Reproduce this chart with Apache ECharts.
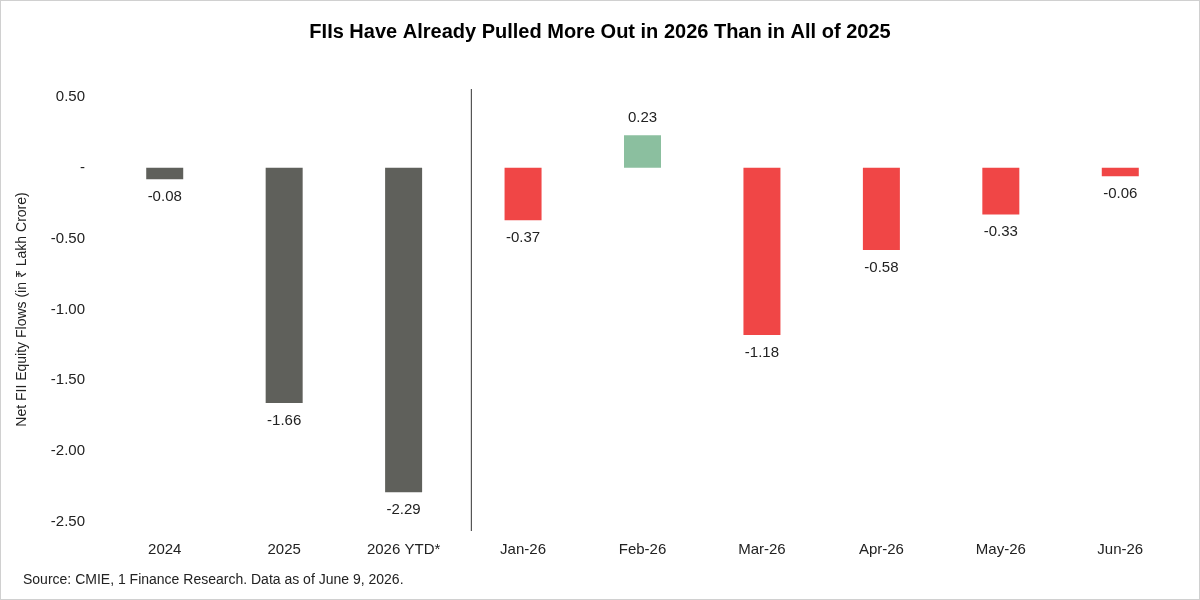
<!DOCTYPE html>
<html><head><meta charset="utf-8">
<script src="https://cdn.jsdelivr.net/npm/echarts@6/dist/echarts.min.js"></script>
<style>html,body{margin:0;padding:0;background:#fff}#c{width:1198px;height:598px;border:1px solid #d0d0d0}</style>
</head><body><div id="c"></div>
<script>
const categories = ['2024','2025','2026 YTD*','Jan-26','Feb-26','Mar-26','Apr-26','May-26','Jun-26'];
const values = [-0.08,-1.66,-2.29,-0.37,0.23,-1.18,-0.58,-0.33,-0.06];
const colorsByCat = ['#5f605b','#5f605b','#5f605b','#f04646','#8bbf9f','#f04646','#f04646','#f04646','#f04646'];
const chart = echarts.init(document.getElementById('c'));
const F = 'Arial, "Liberation Sans", sans-serif';
chart.setOption({
  animation:false,
  title:{text:'FIIs Have Already Pulled More Out in 2026 Than in All of 2025',left:'center',top:16,
    textStyle:{fontFamily:F,fontSize:20,fontWeight:'bold',color:'#000'}},
  grid:{left:104,right:19,top:96,bottom:77},
  xAxis:{type:'category',data:categories,axisLine:{show:false},axisTick:{show:false},
    axisLabel:{fontFamily:F,fontSize:15,color:'#222',margin:20}},
  yAxis:{type:'value',min:-2.5,max:0.5,interval:0.5,splitLine:{show:false},
    name:'Net FII Equity Flows (in ₹ Lakh Crore)',nameLocation:'middle',nameGap:76,
    nameTextStyle:{fontFamily:F,fontSize:14,color:'#222'},
    axisLabel:{fontFamily:F,fontSize:15,color:'#222',margin:20,
      formatter:v=>Math.abs(v)<1e-9?'-':v.toFixed(2)}},
  series:[{type:'bar',barWidth:37,
    data:values.map((v,i)=>({value:v,itemStyle:{color:colorsByCat[i]}})),
    label:{show:true,fontFamily:F,fontSize:15,color:'#222',distance:10,
      formatter:p=>p.value.toFixed(2),position:'top'},
    labelLayout:null}]
});
// place labels below for negatives
chart.setOption({series:[{data:values.map((v,i)=>({value:v,itemStyle:{color:colorsByCat[i]},
  label:{position:v<0?'bottom':'top'}}))}]});
const x = (chart.convertToPixel({xAxisIndex:0},categories[2])+chart.convertToPixel({xAxisIndex:0},categories[3]))/2 + 8;
chart.setOption({graphic:[
  {type:'line',shape:{x1:x,y1:88,x2:x,y2:530},style:{stroke:'#333',lineWidth:1}},
  {type:'text',left:22,top:572,style:{text:'Source: CMIE, 1 Finance Research. Data as of June 9, 2026.',font:'14px '+F,fill:'#222'}}
]});
</script></body></html>
